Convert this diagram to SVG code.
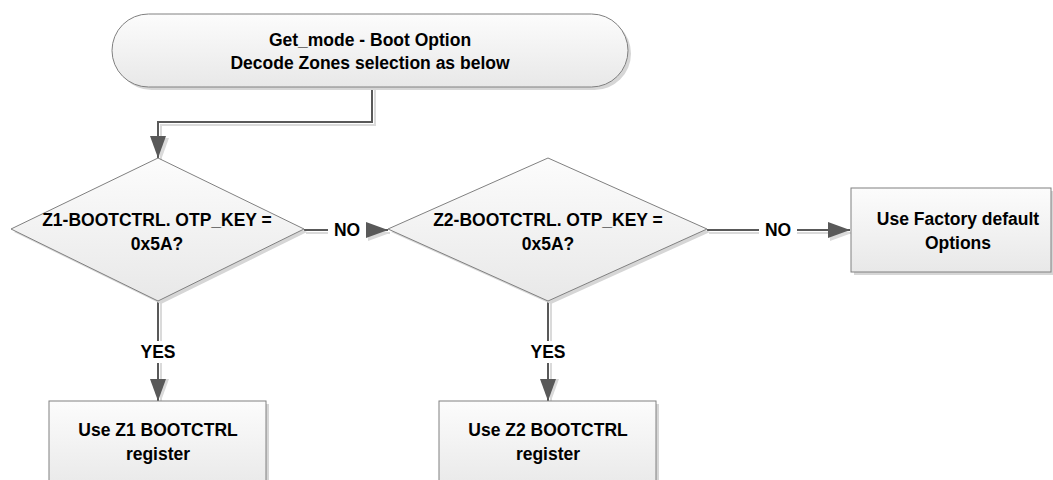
<svg xmlns="http://www.w3.org/2000/svg" width="1053" height="480" viewBox="0 0 1053 480">
<style>
.shape{fill:url(#g);stroke:#808080;stroke-width:1}
.shadow{fill:#d6d6d6;stroke:none}
.t{font-family:"Liberation Sans",Arial,sans-serif;font-weight:bold;font-size:17.5px;fill:#000;text-anchor:middle}
.c{fill:none;stroke:#595959;stroke-width:2}
.cs{fill:none;stroke:#dadada;stroke-width:2}
.lbl{fill:#fff}
</style>
<defs>
<linearGradient id="g" x1="0" y1="0" x2="0" y2="1">
<stop offset="0" stop-color="#fcfcfc"/>
<stop offset="1" stop-color="#e8e8e8"/>
</linearGradient>
<marker id="ah" viewBox="0 0 22 16" refX="22" refY="8" markerWidth="22" markerHeight="16" markerUnits="userSpaceOnUse" orient="auto">
<path d="M0,0 L22,8 L0,16 Z" fill="#595959"/>
</marker>
<marker id="ahs" viewBox="0 0 22 16" refX="22" refY="8" markerWidth="22" markerHeight="16" markerUnits="userSpaceOnUse" orient="auto">
<path d="M0,0 L22,8 L0,16 Z" fill="#dadada"/>
</marker>
</defs>

<g id="connectors">
<path class="cs" d="M375,90 V125 H161 V160" marker-end="url(#ahs)"/>
<path class="c" d="M372,87 V122 H158 V158" marker-end="url(#ah)" stroke-width="2.5"/>
<path class="cs" d="M306,233 H390" marker-end="url(#ahs)"/>
<path class="c" d="M304,230 H388" marker-end="url(#ah)" stroke-width="1.5"/>
<path class="cs" d="M709,233 H852" marker-end="url(#ahs)"/>
<path class="c" d="M707,230 H850" marker-end="url(#ah)" stroke-width="1.5"/>
<path class="cs" d="M161,303 V401" marker-end="url(#ahs)"/>
<path class="c" d="M158,301 V401" marker-end="url(#ah)"/>
<path class="cs" d="M551,303 V401" marker-end="url(#ahs)"/>
<path class="c" d="M548,301 V401" marker-end="url(#ah)"/>
<rect class="lbl" x="328" y="220" width="38" height="20"/>
<text class="t" x="347" y="236">NO</text>
<rect class="lbl" x="759" y="220" width="38" height="20"/>
<text class="t" x="778" y="236">NO</text>
<rect class="lbl" x="136" y="341" width="44" height="22"/>
<text class="t" x="158" y="358">YES</text>
<rect class="lbl" x="526" y="341" width="44" height="22"/>
<text class="t" x="548" y="358">YES</text>
</g>

<g id="start">
<rect class="shadow" x="115" y="17" width="516" height="73" rx="36.5"/>
<rect class="shape" x="112" y="14" width="516" height="73" rx="36.5"/>
<text class="t" x="370" y="46">Get_mode - Boot Option</text>
<text class="t" x="370" y="69">Decode Zones selection as below</text>
</g>

<g id="decision1">
<polygon class="shadow" points="161,161 307,232 161,304 14,232"/>
<polygon class="shape" points="158,158 304,229 158,301 11,229"/>
<text class="t" x="157" y="226">Z1-BOOTCTRL. OTP_KEY =</text>
<text class="t" x="157" y="250">0x5A?</text>
</g>

<g id="decision2">
<polygon class="shadow" points="551,161 710,232 551,304 391,232"/>
<polygon class="shape" points="548,158 707,229 548,301 388,229"/>
<text class="t" x="548" y="226">Z2-BOOTCTRL. OTP_KEY =</text>
<text class="t" x="548" y="250">0x5A?</text>
</g>

<g id="factory">
<rect class="shadow" x="854" y="191" width="200" height="84"/>
<rect class="shape" x="851" y="188" width="200" height="84"/>
<text class="t" x="958" y="225">Use Factory default</text>
<text class="t" x="958" y="249">Options</text>
</g>

<g id="z1box">
<rect class="shadow" x="52" y="404" width="217" height="90"/>
<rect class="shape" x="49" y="401" width="217" height="90"/>
<text class="t" x="158" y="436">Use Z1 BOOTCTRL</text>
<text class="t" x="158" y="460">register</text>
</g>

<g id="z2box">
<rect class="shadow" x="442" y="404" width="217" height="90"/>
<rect class="shape" x="439" y="401" width="217" height="90"/>
<text class="t" x="548" y="436">Use Z2 BOOTCTRL</text>
<text class="t" x="548" y="460">register</text>
</g>
</svg>
